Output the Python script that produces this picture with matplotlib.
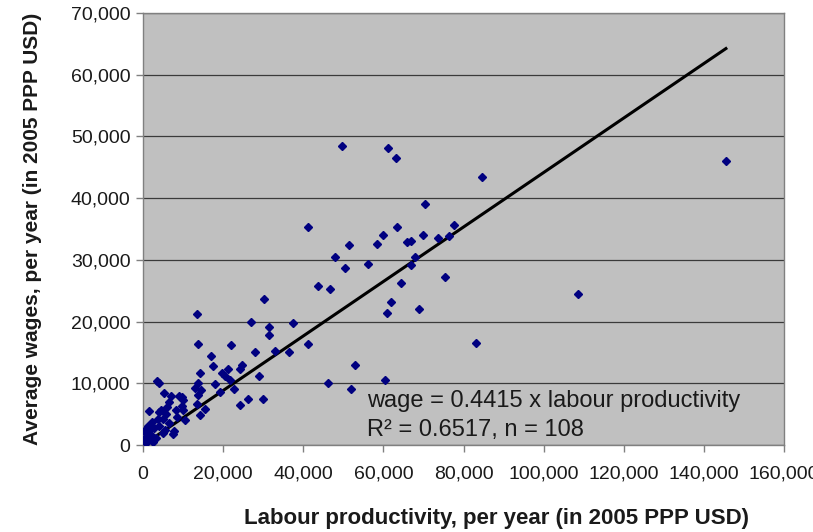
import matplotlib
matplotlib.use("Agg")
import matplotlib.pyplot as plt
from matplotlib.ticker import FuncFormatter, MultipleLocator

plt.rcParams['font.family'] = ['Liberation Sans', 'DejaVu Sans']

# Labour productivity (thousand 2005 PPP USD per year)
productivity_k = [
    49.6, 61.1, 63.2, 84.5, 70.5, 41.2, 63.4, 59.8, 70.0, 77.7,
    76.5, 73.7, 51.3, 58.4, 65.8, 66.8, 47.9, 50.4, 56.2, 67.9,
    66.9, 43.7, 46.7, 64.3, 75.5, 61.9, 60.8, 68.8, 37.4, 36.5,
    41.2, 83.2, 53.0, 46.3, 60.4, 51.9, 145.5, 108.6,
    30.2, 13.6, 27.0, 31.5, 31.5, 13.8, 21.9, 16.9, 28.0, 33.0,
    17.4, 24.6, 24.2, 14.2, 19.6, 21.1, 20.5, 21.7, 29.0, 13.8,
    18.0, 13.0, 14.4, 19.2, 22.7, 10.1, 13.8, 13.6, 24.2, 26.3,
    15.5, 14.2, 10.1, 10.5, 30.0,
    3.4, 3.9, 5.3, 7.0, 9.1, 6.6, 8.2, 1.6, 4.5, 5.7,
    3.7, 1.2, 2.8, 6.6, 7.8, 4.9, 2.0, 0.3, 0.3, 1.6,
    3.2, 9.7, 7.6, 5.5, 4.1, 9.7, 6.0, 2.5, 1.0, 4.0,
    8.5, 2.2, 0.8, 5.0, 1.4,
]

# Average wages (thousand 2005 PPP USD per year)
wages_k = [
    48.5, 48.2, 46.5, 43.4, 39.1, 35.3, 35.4, 34.0, 34.0, 35.6,
    33.9, 33.5, 32.4, 32.6, 32.9, 33.1, 30.4, 28.6, 29.3, 30.4,
    29.1, 25.7, 25.3, 26.3, 27.2, 23.2, 21.4, 22.0, 19.7, 15.0,
    16.3, 16.6, 13.0, 10.0, 10.5, 9.1, 46.0, 24.5,
    23.6, 21.3, 20.0, 19.2, 17.8, 16.4, 16.2, 14.4, 15.1, 15.3,
    12.8, 13.0, 12.3, 11.7, 11.6, 12.3, 11.1, 10.5, 11.2, 10.0,
    9.9, 9.2, 8.9, 8.6, 9.0, 7.3, 8.1, 6.7, 6.5, 7.4,
    5.9, 4.9, 5.7, 4.1, 7.4,
    10.4, 10.1, 8.5, 7.9, 7.9, 6.9, 5.7, 5.5, 5.7, 5.0,
    4.2, 3.0, 2.7, 3.6, 2.2, 1.9, 1.6, 2.2, 0.8, 1.1,
    1.2, 6.3, 1.8, 2.4, 5.4, 7.7, 6.2, 0.5, 1.5, 3.0,
    4.5, 3.8, 0.3, 4.2, 2.5,
]

slope = 0.4415
r_squared = 0.6517

x = [v * 1000 for v in productivity_k]
y = [v * 1000 for v in wages_k]
n_obs = len(x)

fig = plt.figure(figsize=(8.13, 5.32), dpi=100)
ax = fig.add_axes([143 / 813, 1 - 445 / 532, (784 - 143) / 813, (445 - 13) / 532])
ax.set_facecolor('#C0C0C0')

ax.set_xlim(0, 160000)
ax.set_ylim(0, 70000)
ax.xaxis.set_major_locator(MultipleLocator(20000))
ax.yaxis.set_major_locator(MultipleLocator(10000))
fmt = FuncFormatter(lambda v, p: f"{int(v):,}")
ax.xaxis.set_major_formatter(fmt)
ax.yaxis.set_major_formatter(fmt)

ax.grid(axis='y', color='#3a3a3a', linewidth=0.9)
ax.set_axisbelow(True)

for s in ax.spines.values():
    s.set_color('#808080')
    s.set_linewidth(1.0)

ax.tick_params(axis='both', direction='out', length=5, width=1, color='#808080',
               labelsize=14, labelcolor='#1a1a1a')
ax.tick_params(axis='x', pad=10)
ax.tick_params(axis='y', pad=4)

# Regression line through the origin
x_end = max(x)
ax.plot([0, x_end], [0, slope * x_end], color='black', linewidth=2.2, zorder=3)

ax.plot(x, y, linestyle='none', marker='D', markersize=4.3,
        color='#000080', markeredgecolor='#000080', zorder=4)

ax.text(56000, 7050, f"wage = {slope} x labour productivity",
        fontsize=17, color='#1a1a1a', va='center', ha='left')
ax.text(56000, 2450, f"R² = {r_squared}, n = {n_obs}",
        fontsize=17, color='#1a1a1a', va='center', ha='left')

ax.set_xlabel("Labour productivity, per year (in 2005 PPP USD)",
              fontsize=16, fontweight='bold', color='#1a1a1a')
ax.xaxis.set_label_coords(0.551, -0.169)
ax.xaxis.label.set_verticalalignment('center')
ax.set_ylabel("Average wages, per year (in 2005 PPP USD)",
              fontsize=15, fontweight='bold', color='#1a1a1a', labelpad=21)

fig.savefig("out.png", dpi=100, facecolor='white')
